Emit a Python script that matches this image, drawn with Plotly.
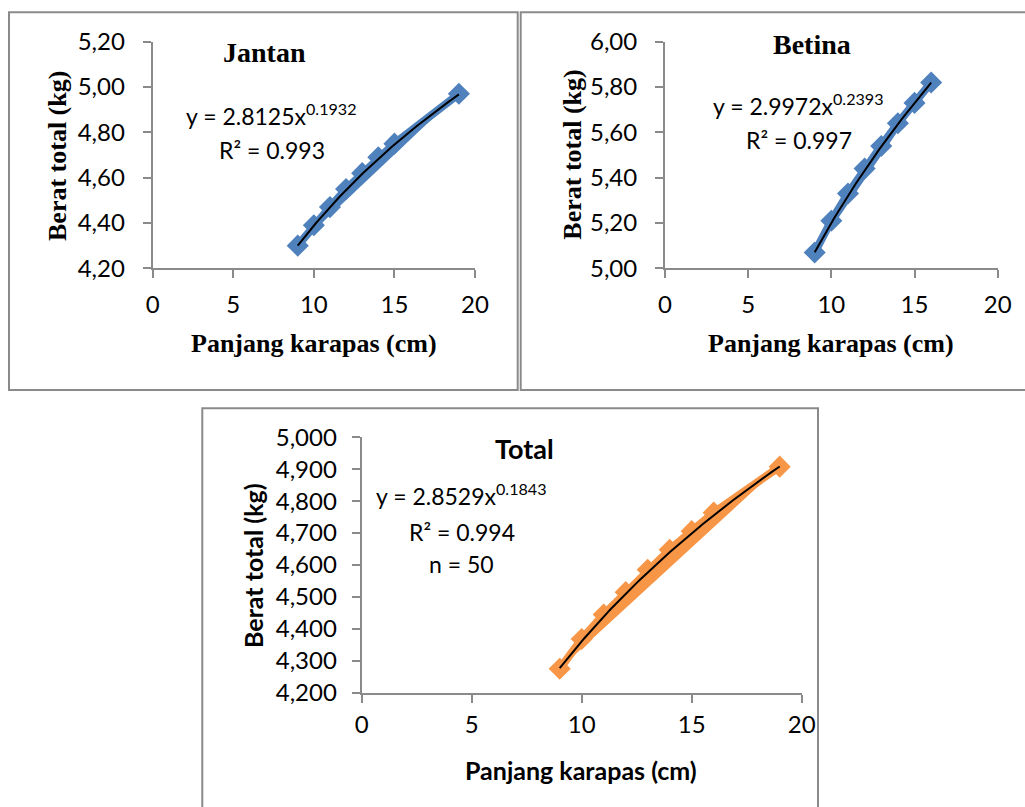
import numpy as np
import plotly.graph_objects as go

W, H = 1025, 807

# ---------------- data ----------------
jantan_x = [9, 10, 11, 12, 13, 14, 15, 19]
jantan_y = [4.30, 4.39, 4.47, 4.55, 4.62, 4.69, 4.75, 4.97]
jantan_a, jantan_b = 2.8125, 0.1932

betina_x = [9, 10, 11, 12, 13, 14, 15, 16]
betina_y = [5.07, 5.21, 5.33, 5.44, 5.54, 5.64, 5.73, 5.82]
betina_a, betina_b = 2.9972, 0.2393

total_x = [9, 10, 11, 12, 13, 14, 15, 16, 19]
total_y = [4.275, 4.368, 4.445, 4.515, 4.585, 4.648, 4.706, 4.764, 4.908]
total_a, total_b = 2.8529, 0.1843

x_ticks = [0, 5, 10, 15, 20]
jantan_yticks = [4.20, 4.40, 4.60, 4.80, 5.00, 5.20]
betina_yticks = [5.00, 5.20, 5.40, 5.60, 5.80, 6.00]
total_yticks = [4.2, 4.3, 4.4, 4.5, 4.6, 4.7, 4.8, 4.9, 5.0]

BLUE = "#4F81BD"
ORANGE = "#F79646"
GRAY = "#8a8a8a"
TICKFONT = dict(family="Lato", size=24, color="#000000")


def px(x):
    return x / W


def py(y):
    return 1 - y / H


fig = go.Figure()


def add_panel(idx, xs, ys, a, b, color):
    xa = "x" if idx == 1 else f"x{idx}"
    ya = "y" if idx == 1 else f"y{idx}"
    # band + markers
    fig.add_trace(go.Scatter(
        x=xs, y=ys, xaxis=xa, yaxis=ya, mode="lines+markers",
        fill="toself", fillcolor=color,
        line=dict(color=color, width=8),
        marker=dict(symbol="diamond", size=17, color=color),
        showlegend=False, hoverinfo="skip"))
    # power trendline
    xt = np.linspace(min(xs), max(xs), 100)
    fig.add_trace(go.Scatter(
        x=xt, y=a * xt ** b, xaxis=xa, yaxis=ya, mode="lines",
        line=dict(color="#000000", width=2),
        showlegend=False, hoverinfo="skip"))


add_panel(1, jantan_x, jantan_y, jantan_a, jantan_b, BLUE)
add_panel(2, betina_x, betina_y, betina_a, betina_b, BLUE)
add_panel(3, total_x, total_y, total_a, total_b, ORANGE)

axis_common = dict(
    showline=True, linecolor=GRAY, linewidth=2,
    ticks="outside", ticklen=8, tickwidth=2, tickcolor=GRAY,
    showgrid=False, zeroline=False, tickfont=TICKFONT,
    automargin=False,
)

xdoms = {
    1: [px(152.7), px(475)],
    2: [px(665), px(997.7)],
    3: [px(361.7), px(801.7)],
}
ydoms = {
    1: [py(268.3), py(41.7)],
    2: [py(268.3), py(41.7)],
    3: [py(692.7), py(437.3)],
}
x_standoff = {1: 6, 2: 6, 3: 1}
y_standoff = {1: 13, 2: 13, 3: 10}

layout_axes = {}
yinfo = {
    1: (jantan_yticks, ".2f"),
    2: (betina_yticks, ".2f"),
    3: (total_yticks, ".3f"),
}
for i in (1, 2, 3):
    xk = "xaxis" if i == 1 else f"xaxis{i}"
    yk = "yaxis" if i == 1 else f"yaxis{i}"
    ya = "y" if i == 1 else f"y{i}"
    xa = "x" if i == 1 else f"x{i}"
    ticks, fmt = yinfo[i]
    layout_axes[xk] = dict(axis_common, domain=xdoms[i], anchor=ya,
                           range=[0, 20], tickvals=x_ticks,
                           ticklabelstandoff=x_standoff[i])
    layout_axes[yk] = dict(axis_common, domain=ydoms[i], anchor=xa,
                           range=[ticks[0], ticks[-1]], tickvals=ticks,
                           tickformat=fmt, ticklabelstandoff=y_standoff[i])

# borders
shapes = []
for (x0, y0, x1, y1) in [(9, 12.3, 517.7, 390), (520.7, 12.3, 1030, 390),
                         (202.3, 408.3, 818, 812)]:
    shapes.append(dict(type="rect", xref="paper", yref="paper",
                       x0=px(x0), x1=px(x1), y0=py(y1), y1=py(y0),
                       line=dict(color=GRAY, width=2), fillcolor="rgba(0,0,0,0)",
                       layer="below"))

SERIF_B = dict(family="Liberation Serif", color="#000000")
SANS = dict(family="Lato", color="#000000")


def ann(x, y, text, font, size, angle=0):
    return dict(x=px(x), y=py(y), xref="paper", yref="paper", text=text,
                showarrow=False, xanchor="center", yanchor="middle",
                textangle=angle, font=dict(font, size=size))


annotations = [
    # Jantan
    ann(264, 52, "<b>Jantan</b>", SERIF_B, 28),
    ann(271, 114, "y = 2.8125x<sup>0.1932</sup>", SANS, 23),
    ann(271.5, 150, "R² = 0.993", SANS, 23),
    ann(314, 343, "<b>Panjang karapas (cm)</b>", SERIF_B, 26),
    ann(58, 156, "<b>Berat total (kg)</b>", SERIF_B, 26, -90),
    # Betina
    ann(811.7, 44, "<b>Betina</b>", SERIF_B, 28),
    ann(798, 104, "y = 2.9972x<sup>0.2393</sup>", SANS, 23),
    ann(798.5, 140, "R² = 0.997", SANS, 23),
    ann(831, 343, "<b>Panjang karapas (cm)</b>", SERIF_B, 26),
    ann(571.7, 155, "<b>Berat total (kg)</b>", SERIF_B, 26, -90),
    # Total
    ann(524, 448, "<b>Total</b>", SANS, 27),
    ann(461, 494, "y = 2.8529x<sup>0.1843</sup>", SANS, 23),
    ann(462, 532, "R² = 0.994", SANS, 23),
    ann(461, 564, "n = 50", SANS, 23),
    ann(581, 770, "<b>Panjang karapas (cm)</b>", SANS, 25),
    ann(253, 566, "<b>Berat total (kg)</b>", SANS, 25, -90),
]

fig.update_layout(
    width=W, height=H, autosize=False,
    margin=dict(l=0, r=0, t=0, b=0, autoexpand=False),
    paper_bgcolor="#ffffff", plot_bgcolor="rgba(0,0,0,0)",
    separators=",.",
    shapes=shapes, annotations=annotations,
    **layout_axes,
)

fig.write_html("out.html")
